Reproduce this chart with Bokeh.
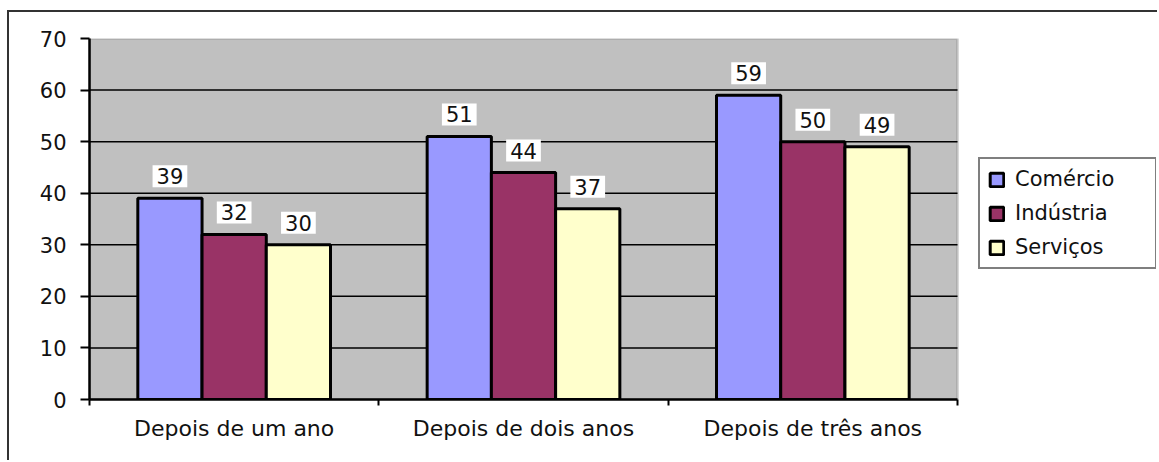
from bokeh.plotting import figure
from bokeh.models import Range1d, FixedTicker, Legend, LegendItem, ColumnDataSource, BoxAnnotation
from bokeh.transform import dodge
from bokeh.core.properties import value
from bokeh.embed import file_html
from bokeh.resources import INLINE

categories = ["Depois de um ano", "Depois de dois anos", "Depois de três anos"]
series = ["Comércio", "Indústria", "Serviços"]
comercio = [39, 51, 59]
industria = [32, 44, 50]
servicos = [30, 37, 49]
colors = ["#9999FF", "#993366", "#FFFFCC"]
y_ticks = [0, 10, 20, 30, 40, 50, 60, 70]

FONT = "DejaVu Sans"

# layout (pixels): plot area 868 px wide for the 3 categories; frame extended to hold the legend
n = len(categories)
plot_px = 868.0
frame_px = 1067.0
x_end = n * frame_px / plot_px

p = figure(width=1150, height=450, output_backend="svg", toolbar_location=None,
           x_range=Range1d(0, x_end), y_range=Range1d(0, 70),
           min_border_left=80, min_border_right=3, min_border_top=26, min_border_bottom=63)
p.styles = {"border-top": "2px solid #333333", "border-left": "2px solid #333333",
            "margin-top": "10px", "margin-left": "7px"}

p.background_fill_color = "white"
p.border_fill_color = "white"
p.outline_line_color = None

plot_bg = BoxAnnotation(left=0, right=n, bottom=0, top=70, fill_color="#C0C0C0", fill_alpha=1,
                        line_color="#808080", line_width=3, level="underlay")
p.add_layout(plot_bg)

# horizontal grid lines limited to the plot area
grid_y = y_ticks[1:-1]
p.segment(x0=[0] * len(grid_y), x1=[n] * len(grid_y), y0=grid_y, y1=grid_y,
          line_color="black", line_width=1.5)

centers = [i + 0.5 for i in range(n)]
src = ColumnDataSource(dict(x=centers, c=comercio, i=industria, s=servicos,
                            lc=[str(v) for v in comercio],
                            li=[str(v) for v in industria],
                            ls=[str(v) for v in servicos]))

bw = 0.222
renderers = []
for col, lab, off, color in zip(["c", "i", "s"], ["lc", "li", "ls"], [-bw, 0, bw], colors):
    r = p.vbar(x=dodge("x", off, range=p.x_range), top=col, width=bw, bottom=0, source=src,
               fill_color=color, line_color="black", line_width=3)
    renderers.append(r)
    p.text(x=dodge("x", off, range=p.x_range), y=col, text=lab, source=src,
           text_align="center", text_baseline="bottom", y_offset=-11,
           text_font=value(FONT), text_font_size="21px", text_color="#111111",
           background_fill_color="white", padding=(4, 3))

# axes
p.yaxis.ticker = FixedTicker(ticks=y_ticks)
p.yaxis.axis_line_color = "black"
p.yaxis.axis_line_width = 2.5
p.yaxis.major_tick_line_color = "black"
p.yaxis.major_tick_line_width = 2
p.yaxis.major_tick_out = 9
p.yaxis.major_tick_in = 0
p.yaxis.minor_tick_line_color = None
p.yaxis.major_label_standoff = 14
p.yaxis.major_label_text_font = FONT
p.yaxis.major_label_text_font_size = "21px"
p.yaxis.major_label_text_color = "#111111"

p.xaxis.ticker = FixedTicker(ticks=centers, minor_ticks=list(range(n + 1)))
p.xaxis.bounds = (0, n)
p.xaxis.major_label_overrides = {c: lab for c, lab in zip(centers, categories)}
p.xaxis.axis_line_color = "black"
p.xaxis.axis_line_width = 2.5
p.xaxis.major_tick_line_color = None
p.xaxis.major_tick_out = 0
p.xaxis.major_tick_in = 0
p.xaxis.minor_tick_line_color = "black"
p.xaxis.minor_tick_line_width = 2
p.xaxis.minor_tick_out = 6
p.xaxis.minor_tick_in = 0
p.xaxis.major_label_standoff = 10
p.xaxis.major_label_text_font = FONT
p.xaxis.major_label_text_font_size = "22px"
p.xaxis.major_label_text_color = "#111111"

p.xgrid.grid_line_color = None
p.ygrid.grid_line_color = None

legend = Legend(items=[LegendItem(label=s, renderers=[r]) for s, r in zip(series, renderers)],
                location=(889, 130), orientation="vertical")
legend.border_line_color = "black"
legend.border_line_width = 2
legend.background_fill_color = "white"
legend.background_fill_alpha = 1
legend.label_text_font = FONT
legend.label_text_font_size = "21px"
legend.label_text_color = "#111111"
legend.glyph_width = 17
legend.glyph_height = 17
legend.label_height = 22
legend.label_width = 132
legend.spacing = 10
legend.padding = 8
legend.label_standoff = 10
legend.margin = 0
p.add_layout(legend, "center")

open("out.html", "w").write(file_html(p, INLINE))
